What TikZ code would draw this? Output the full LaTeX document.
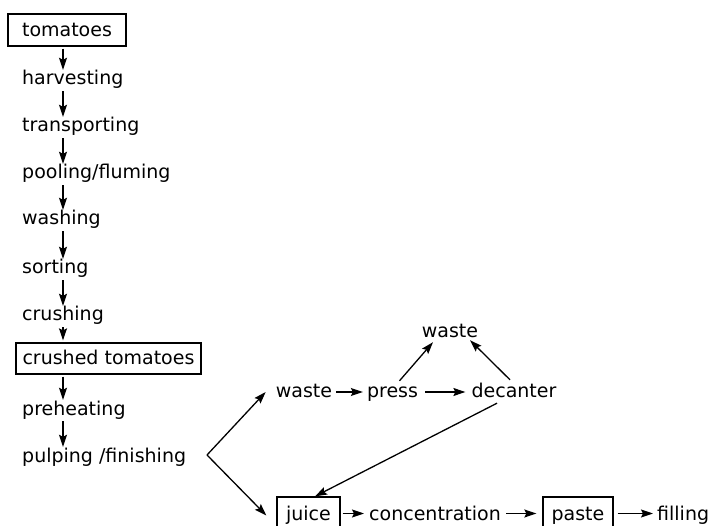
\documentclass[tikz,border=0pt]{standalone}
\usepackage{fontspec}
\setmainfont{DejaVu Sans}
\usetikzlibrary{arrows.meta}
\begin{document}
\begin{tikzpicture}[x=1pt,y=-1pt,
  lbl/.style={inner sep=0pt, text height=13pt, text depth=4pt, font=\fontsize{19}{22}\selectfont},
  lft/.style={lbl, anchor=base west},
  ctr/.style={lbl, anchor=base},
  boxn/.style={draw, line width=1.3pt, inner sep=0pt, text height=13pt, text depth=0pt,
    font=\fontsize{19}{22}\selectfont, anchor=center},
  arr/.style={-{Stealth[length=12pt,width=8pt,inset=2pt]}, line width=1.3pt},
]
\useasboundingbox (0,0) rectangle (712,526);
\fill[white] (0,0) rectangle (712,526);
\coordinate (ax) at (63,0);

% left column
\node[boxn, minimum width=118pt, minimum height=32pt] (tom) at (67,30) {tomatoes};
\node[lft] (harv) at (22,85) {harvesting};
\node[lft] (trans) at (22,132) {transporting};
\node[lft] (pool) at (22,179) {pooling/fluming};
\node[lft] (wash) at (22,225) {washing};
\node[lft] (sort) at (22,274) {sorting};
\node[lft] (crush) at (22,321) {crushing};
\node[boxn, minimum width=185pt, minimum height=31pt] (ctom) at (108.5,358.5) {crushed tomatoes};
\node[lft] (preh) at (22,415) {preheating};
\node[lft] (pulp) at (22,462) {pulping /finishing};

\foreach \a/\b in {tom/harv, harv/trans, trans/pool, pool/wash, wash/sort, sort/crush, crush/ctom, ctom/preh, preh/pulp}
  \draw[arr, shorten <=2pt, shorten >=2pt] (\a.south -| ax) -- (\b.north -| ax);

% right part
\coordinate (apex) at (207,455);
\node[ctr] (waste1) at (304,398) {waste};
\node[ctr] (press) at (392.5,398) {press};
\node[ctr] (dec) at (514,398) {decanter};
\node[ctr] (waste2) at (450,338) {waste};
\node[boxn, minimum width=63pt, minimum height=33pt] (juice) at (308.5,513.5) {juice};
\node[ctr] (conc) at (435,520) {concentration};
\node[boxn, minimum width=70pt, minimum height=33pt] (paste) at (578,513.5) {paste};
\node[lbl, anchor=base west] (fill) at (657,520) {filling};

\draw[arr] (apex) -- ([xshift=-10pt,yshift=1.5pt]waste1.west);
\draw[arr] (apex) -- ([xshift=-10pt,yshift=-2pt]juice.west);
\draw[arr, shorten <=4pt, shorten >=4pt] ([yshift=1.5pt]waste1.east) -- ([yshift=1.5pt]waste1.east -| press.west);
\draw[arr, shorten <=7pt, shorten >=6pt] ([yshift=1.5pt]press.east) -- ([yshift=1.5pt]press.east -| dec.west);
\draw[arr] ([xshift=7pt,yshift=4pt]press.north) -- ([xshift=-17pt]waste2.south);
\draw[arr] ([xshift=-4pt,yshift=5pt]dec.north) -- ([xshift=20pt,yshift=2pt]waste2.south);
\draw[arr] ([xshift=-17pt,yshift=-1pt]dec.south) -- ([xshift=6.5pt]juice.north);
\draw[arr, shorten <=2pt, shorten >=5pt] (juice.east) -- (juice.east -| conc.west);
\draw[arr, shorten <=5pt, shorten >=6pt] (juice.east -| conc.east) -- (juice.east -| paste.west);
\draw[arr, shorten <=4pt, shorten >=4pt] (paste.east) -- (paste.east -| fill.west);
\end{tikzpicture}
\end{document}
